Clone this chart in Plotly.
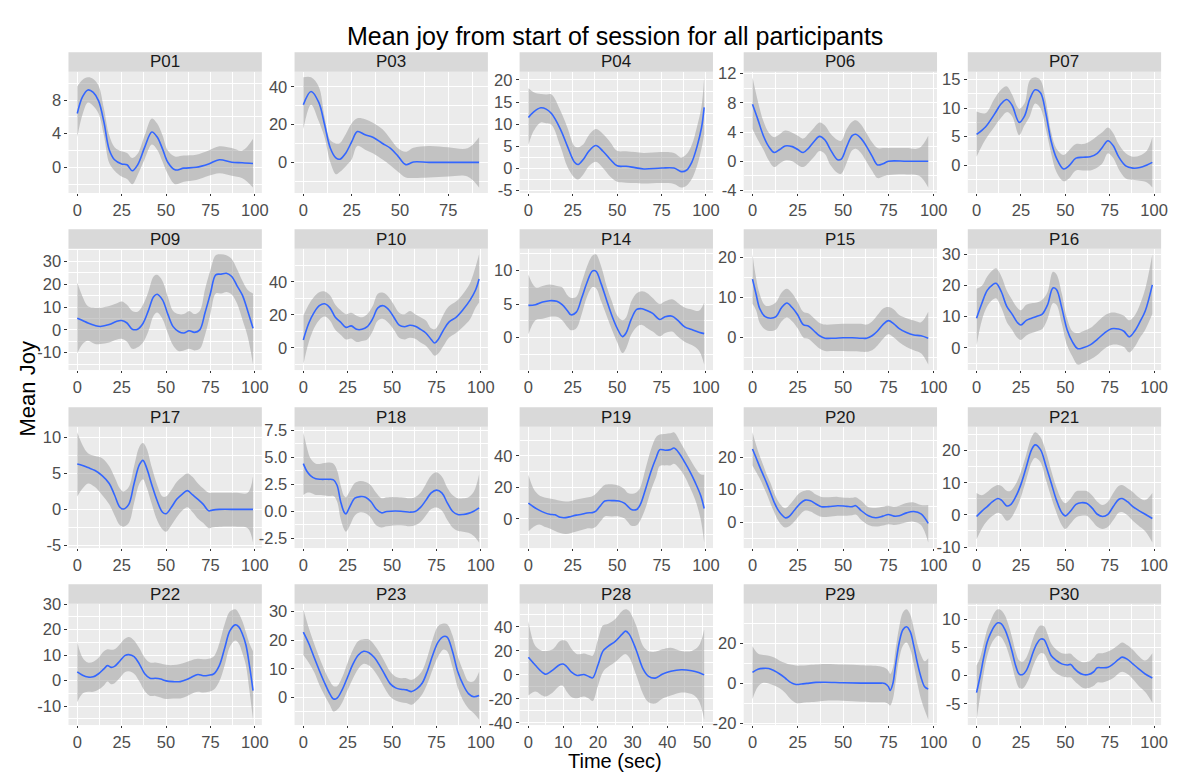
import plotly.graph_objects as go

# ---------------- data ----------------
p01_t = [0, 3, 6, 9, 12, 15, 18, 21, 25, 28, 31, 34, 38, 42, 45, 48, 51, 55, 60, 67, 74, 80, 87, 93, 99]
p01_mean = [6.4, 8.4, 9.2, 8.9, 7.9, 5.4, 2.1, 0.9, 0.4, 0.3, -0.4, 0.3, 2.4, 4.2, 3.6, 2.2, 0.6, -0.3, -0.1, 0.0, 0.4, 0.9, 0.6, 0.55, 0.45]
p01_hi = [9.6, 10.4, 10.7, 10.5, 9.7, 7.0, 3.8, 2.4, 1.9, 1.7, 1.1, 1.6, 3.8, 5.8, 5.2, 3.8, 2.0, 1.3, 1.4, 1.5, 2.0, 2.5, 2.3, 2.0, 3.4]
p01_lo = [3.6, 6.3, 7.7, 7.3, 6.4, 3.8, 0.5, -0.4, -1.1, -1.4, -2.0, -0.9, 1.0, 2.7, 2.1, 0.7, -0.8, -2.0, -1.7, -1.5, -1.0, -0.7, -1.0, -1.3, -2.4]

p03_t = [0, 4, 8, 11, 14, 17, 19, 22, 25, 28, 32, 36, 41, 45, 49, 53, 57, 65, 75, 85, 91]
p03_mean = [30.5, 37.5, 31.7, 20, 7.5, 2.2, 1.7, 5, 10.8, 16.3, 14.6, 13.3, 10, 7.5, 3.3, -1.2, 0.2, 0, 0, 0, 0]
p03_hi = [45, 45, 40, 24, 11.7, 10, 10.3, 15, 20.5, 23.3, 22.8, 21, 17.5, 12.5, 7.5, 5.6, 7.8, 8.7, 8, 7.5, 13.3]
p03_lo = [17.5, 30.5, 21.7, 13.3, 0, -6.3, -5.0, -2, 1.5, 8.7, 6.7, 4.8, 1.5, -1.5, -5, -8, -8.3, -8, -7.5, -7.5, -13.3]

p04_t = [0, 3, 7, 10, 13, 18, 22, 26, 28, 31, 34, 38, 42, 46, 50, 55, 60, 65, 75, 82, 86, 89, 92, 95, 97.5, 99]
p04_mean = [11.5, 12.8, 13.7, 13.4, 12.4, 8.9, 5, 1.4, 0.9, 2.1, 3.9, 5.2, 3.9, 2.1, 0.6, 0.5, 0.2, -0.1, 0.1, 0.1, -0.7, -0.4, 1.4, 5, 9.2, 13.8]
p04_hi = [18.1, 17.2, 16.8, 16.7, 16.7, 13.1, 9.2, 5, 4.8, 5.5, 7.5, 8.9, 7.8, 6, 4, 3.9, 3.7, 3.5, 3.7, 3.5, 2.5, 3.2, 5.3, 9.5, 14, 20.6]
p04_lo = [5.3, 8.5, 10.4, 10.2, 9.9, 5, 0.35, -2.1, -2.5, -1.3, 0.5, 1.5, 0.1, -1.8, -3, -3.2, -3.3, -3.4, -3.3, -3.5, -4.3, -3.9, -2.4, 0.6, 4.5, 7.8]

p06_t = [0, 3, 6, 9, 12, 15, 18, 22, 25, 28, 31, 34, 37, 40, 43, 47, 49, 52, 55, 57, 60, 63, 66, 69, 72, 75, 85, 92, 97]
p06_mean = [7.8, 5.7, 3.5, 2.0, 1.2, 1.6, 2.1, 2.0, 1.6, 1.2, 1.8, 2.7, 3.4, 2.9, 1.6, 0.2, 0.3, 2.0, 3.5, 3.7, 3.1, 2.0, 0.7, -0.5, -0.35, 0, 0, 0, 0]
p06_hi = [11.5, 8.2, 5.5, 3.9, 3.3, 3.7, 4.2, 3.9, 3.5, 3.1, 3.8, 4.6, 5.3, 4.9, 3.8, 2.9, 2.8, 4.4, 5.4, 5.6, 5.0, 3.8, 2.6, 1.8, 1.8, 1.8, 1.8, 1.8, 3.5]
p06_lo = [4.4, 2.9, 1.6, 0.1, -0.8, -0.3, 0.1, 0, -0.5, -0.8, -0.2, 0.6, 1.4, 1.0, -0.5, -1.6, -1.7, -0.2, 1.5, 1.7, 1.1, -0.1, -1.3, -2.3, -2.1, -1.9, -1.8, -2.0, -3.6]

p07_t = [0, 5, 10, 14, 17, 20, 24, 27, 30, 33, 36, 39, 42, 45, 49, 52, 56, 60, 64, 68, 71, 74, 77, 80, 84, 88, 92, 96, 99]
p07_mean = [5.4, 6.7, 8.9, 10.8, 11.5, 10.5, 7.5, 8.6, 11.6, 13.2, 12.7, 9.1, 4.2, 1.25, -0.65, -0.1, 1.25, 1.4, 1.5, 2.1, 3.2, 4.3, 3.4, 1.5, -0.1, -0.5, -0.4, 0.05, 0.5]
p07_hi = [9.4, 9.1, 11.6, 13.3, 13.8, 12.4, 9.9, 10.8, 14.9, 15.4, 14.9, 11.3, 5.8, 2.9, 1.8, 2.6, 3.7, 3.7, 4.2, 5.1, 5.8, 6.6, 5.6, 3.7, 2.1, 1.5, 1.7, 2.6, 4.9]
p07_lo = [1.5, 4.5, 6.7, 8.4, 9.3, 8.6, 5.3, 7.0, 8.6, 10.8, 10.0, 6.4, 2.1, -1.2, -2.8, -2.3, -0.9, -0.9, -0.9, -0.4, 0.4, 2.1, 1.25, -0.65, -2.3, -2.55, -2.7, -3.0, -3.9]

p09_t = [0, 3, 6, 10, 13, 18, 22, 25, 28, 31, 34, 37, 40, 43, 45, 48, 51, 54, 57, 60, 63, 66, 69, 72, 75, 78, 81, 84, 87, 90, 93, 96, 99]
p09_mean = [5.1, 4.1, 3.0, 1.9, 1.5, 2.3, 3.7, 4.1, 3.0, 0.3, 0.3, 2.8, 8.3, 14.5, 15.6, 13.1, 6.9, 1.4, -0.7, -1.4, -0.4, -1.1, 0, 7.6, 15.9, 24.1, 24.4, 24.8, 23.4, 19.3, 15.2, 8.3, 0.7]
p09_hi = [20.7, 14.5, 10.3, 9.7, 9.7, 10.5, 11.5, 12.4, 11.0, 8.3, 7.9, 11.0, 16.6, 23.4, 24.1, 21.4, 14.5, 8.3, 6.9, 6.9, 8.3, 6.9, 8.3, 17.9, 26.2, 32.7, 33.1, 32.7, 31.0, 26.5, 21.5, 17.5, 15.9]
p09_lo = [-10.3, -6.2, -4.8, -6.2, -6.2, -5.5, -4.3, -3.9, -5.2, -8.3, -7.6, -5.5, -0.7, 6.2, 7.6, 4.8, -1.4, -6.9, -9.3, -9.0, -8.3, -9.0, -8.3, -2.1, 6.9, 15.9, 15.9, 16.6, 15.5, 11.5, 4.5, -3.0, -15.2]

p10_t = [0, 3, 6, 9, 12, 15, 18, 21, 24, 27, 30, 33, 36, 39, 42, 45, 48, 51, 54, 57, 60, 63, 66, 69, 72, 74, 76, 79, 82, 86, 90, 94, 97, 99]
p10_mean = [4.8, 14.7, 21.3, 25.5, 26.7, 24.2, 18.5, 15.6, 12.4, 13.3, 11.2, 11.2, 12.8, 17.5, 24.2, 25.5, 23.2, 18.5, 13.7, 12.8, 13.7, 13.1, 11.2, 9, 5.1, 2.9, 5.1, 10.9, 15.6, 18.5, 23.2, 29, 35, 41.7]
p10_hi = [19.4, 26.1, 30.8, 33.7, 34.1, 31.8, 26.1, 22.7, 20.4, 21.3, 19.4, 18.5, 20.4, 25.1, 32.8, 33.3, 30.8, 26.1, 21.3, 20.4, 22.3, 20.4, 18.5, 16.6, 11.8, 11.2, 13.7, 20.4, 25.1, 28, 32.8, 39.4, 49, 56.6]
p10_lo = [-10.1, 3.2, 11.8, 16.9, 18.9, 16.6, 10.9, 8, 5.1, 5.7, 3.6, 4.2, 5.1, 9.9, 16.6, 17.5, 15.1, 10.9, 6.1, 5.1, 6.1, 5.5, 3.2, 1.3, -2.5, -4.8, -3.4, 1.3, 6.1, 9, 12.8, 17.5, 24.2, 27.4]

p14_t = [0, 4, 8, 12, 16, 19, 22, 24, 27, 30, 33, 36, 38, 41, 44, 47, 50, 53, 55, 58, 61, 64, 67, 70, 74, 77, 81, 84, 88, 92, 96, 99]
p14_mean = [4.8, 4.9, 5.3, 5.5, 5.4, 4.9, 4.0, 3.4, 3.8, 5.9, 8.2, 9.9, 9.9, 8.0, 5.6, 3.3, 1.4, 0.15, 0.7, 2.8, 4.2, 4.3, 4.0, 3.6, 2.7, 3.1, 3.2, 2.6, 1.6, 1.2, 0.8, 0.6]
p14_hi = [9.4, 7.5, 7.7, 7.9, 7.7, 7.5, 6.3, 5.9, 6.1, 8.2, 10.6, 12.2, 12.4, 10.6, 7.7, 5.4, 3.3, 2.6, 3.0, 5.4, 6.6, 6.9, 6.6, 5.9, 5.0, 5.4, 5.7, 5.2, 4.5, 4.2, 4.0, 5.2]
p14_lo = [0.5, 2.6, 2.8, 3.1, 3.1, 2.6, 1.6, 1.1, 1.4, 3.5, 6.1, 7.5, 7.4, 5.4, 3.3, 1.2, -0.7, -2.3, -1.6, 0.5, 1.6, 1.9, 1.4, 0.9, 0.2, 0.7, 0.9, 0.2, -0.6, -1.1, -1.9, -4.0]

p15_t = [0, 2, 4, 7, 10, 13, 16, 19, 22, 25, 28, 31, 34, 37, 40, 45, 50, 55, 60, 63, 66, 69, 72, 75, 78, 81, 85, 89, 93, 97]
p15_mean = [14.6, 10.8, 7.2, 5.2, 4.8, 5.2, 7.4, 8.6, 7.4, 5.6, 3.2, 2.8, 1.6, 0.4, -0.2, -0.2, -0.1, -0.1, -0.2, -0.2, 0.4, 1.6, 3.2, 4.2, 3.4, 2.2, 1.2, 0.6, 0.4, -0.2]
p15_hi = [20.8, 14.8, 10.8, 8.0, 8.0, 8.8, 11.2, 12.2, 11.0, 8.8, 6.4, 6.0, 4.8, 3.6, 3.2, 3.3, 3.4, 3.4, 3.4, 3.2, 4.0, 5.6, 7.2, 7.6, 7.0, 5.6, 4.8, 4.2, 3.8, 6.4]
p15_lo = [8.4, 6.8, 3.6, 2.0, 1.6, 2.0, 4.0, 5.0, 4.0, 2.2, 0.0, -0.4, -1.6, -2.8, -3.4, -3.4, -3.4, -3.5, -3.6, -3.6, -3.2, -2.0, -0.4, 0.8, 0.0, -1.2, -2.4, -3.2, -4.0, -6.8]

p16_t = [0, 3, 6, 9, 11, 14, 17, 20, 23, 25, 28, 31, 34, 37, 40, 43, 45, 48, 51, 54, 57, 60, 64, 68, 72, 76, 80, 83, 86, 89, 92, 95, 99]
p16_mean = [9.5, 14.3, 18.4, 20.2, 20.7, 17.9, 13.3, 10.8, 8.1, 7.3, 8.8, 9.5, 10.1, 10.8, 13.8, 19.2, 18.7, 12.8, 5.8, 1.9, -0.3, 0, 0.9, 2.7, 4.7, 6.1, 6.0, 5.3, 3.5, 5.3, 8.3, 11.8, 20.2]
p16_hi = [18.9, 19.9, 22.9, 24.9, 25.5, 22.9, 18.4, 15.4, 12.8, 12.0, 13.8, 14.3, 14.5, 15.4, 17.9, 24.4, 23.6, 17.4, 9.3, 5.3, 4.7, 5.3, 6.3, 8.3, 10.3, 11.3, 11.0, 10.3, 8.8, 10.3, 13.8, 18.9, 30.0]
p16_lo = [0.7, 8.8, 13.3, 15.4, 15.9, 12.8, 8.3, 5.8, 3.2, 2.5, 3.9, 4.7, 5.3, 6.0, 9.3, 14.3, 13.8, 7.8, 0.7, -2.8, -5.4, -4.8, -3.8, -2.3, -0.3, 0.9, 0.9, 0.2, -1.5, 0.2, 3.2, 5.8, 10.8]

p17_t = [0, 3, 6, 10, 14, 18, 21, 24, 26, 29, 32, 35, 37, 39, 42, 45, 48, 50, 53, 56, 59, 62, 65, 68, 71, 74, 76, 80, 90, 96, 99]
p17_mean = [6.3, 6.1, 5.8, 5.4, 4.7, 3.6, 2.0, 0.3, 0.05, 0.7, 3.6, 6.2, 6.8, 5.8, 3.4, 1.2, -0.4, -0.6, 0.3, 1.4, 2.1, 2.6, 2.0, 1.4, 0.7, -0.2, -0.1, 0, 0, 0, 0]
p17_hi = [10.7, 8.9, 7.8, 7.4, 7.1, 6.0, 4.5, 2.9, 2.5, 3.1, 6.0, 8.7, 9.2, 8.5, 5.8, 3.4, 1.8, 1.8, 2.7, 3.8, 4.5, 5.0, 4.5, 3.6, 2.9, 2.3, 2.3, 2.3, 2.3, 2.3, 4.6]
p17_lo = [1.8, 2.9, 3.6, 3.1, 2.0, 0.7, -0.8, -2.2, -2.4, -1.9, 0.9, 3.6, 4.2, 3.1, 0.7, -1.5, -2.8, -3.1, -2.2, -1.1, -0.2, 0.3, -0.4, -1.3, -1.9, -2.6, -2.5, -2.4, -2.4, -2.6, -4.6]

p18_t = [0, 2, 4, 7, 10, 14, 17, 19, 21, 23, 24, 26, 29, 32, 35, 38, 41, 44, 47, 55, 60, 63, 66, 69, 72, 75, 78, 81, 84, 87, 90, 93, 96, 99]
p18_mean = [4.4, 3.7, 3.3, 3.0, 2.95, 2.95, 2.9, 2.4, 0.9, -0.1, -0.25, 0.35, 1.2, 1.35, 1.3, 0.9, 0.2, -0.15, -0.03, 0, -0.09, -0.03, 0.35, 1.0, 1.7, 1.95, 1.7, 0.8, 0, -0.3, -0.3, -0.2, 0, 0.3]
p18_hi = [7.3, 5.9, 4.9, 4.4, 4.4, 4.5, 4.4, 3.8, 2.4, 1.4, 1.3, 1.8, 2.6, 2.8, 2.7, 2.4, 1.7, 1.2, 1.3, 1.3, 1.2, 1.3, 1.7, 2.5, 3.3, 3.6, 3.2, 2.2, 1.5, 1.2, 1.2, 1.3, 1.8, 3.4]
p18_lo = [1.5, 1.7, 1.7, 1.5, 1.5, 1.4, 1.4, 0.9, -0.7, -1.7, -1.9, -1.4, -0.4, -0.1, -0.2, -0.6, -1.3, -1.5, -1.4, -1.3, -1.4, -1.3, -1.0, -0.4, 0.2, 0.35, 0.06, -0.8, -1.5, -1.8, -1.9, -2.0, -2.3, -2.9]

p19_t = [0, 3, 6, 9, 12, 15, 18, 21, 24, 27, 30, 33, 36, 38, 41, 43, 47, 51, 54, 56, 58, 61, 63, 66, 69, 72, 74, 77, 80, 82, 85, 88, 91, 94, 97, 99]
p19_mean = [10, 7.6, 5.6, 4, 3, 2.6, 1, 0.8, 1.6, 2.4, 3, 3.8, 4, 5, 9, 11.4, 11.6, 11.4, 10, 8, 6, 6, 9, 19, 30, 39, 44, 43.6, 44, 45, 41.6, 36, 30, 23, 15, 6.6]
p19_hi = [28, 19, 15, 13.6, 13, 12.4, 11.6, 11, 11.4, 12.4, 13, 13.6, 14.4, 16, 19.6, 21.6, 22, 21, 19, 16.4, 16, 17, 20, 32, 44, 52, 53.6, 54, 54.4, 55, 50, 44, 38, 32.4, 28.4, 28]
p19_lo = [-8, -5, -3.6, -5, -6, -7.6, -9, -9.6, -9, -8, -7, -6, -6, -5, -1, 1.6, 1.6, 1.6, 0.4, -2, -4.4, -4, -1, 7, 18, 27, 33.6, 34, 34, 35, 32, 27, 20, 12, 0, -15]

p20_t = [0, 2, 4, 6, 8, 10, 12, 14, 16, 18, 20, 23, 26, 29, 32, 35, 38, 42, 47, 52, 55, 57, 60, 64, 68, 72, 75, 78, 81, 85, 89, 93, 97]
p20_mean = [22.5, 19.8, 17, 14.4, 11.8, 9, 6.1, 3.9, 2.4, 1.4, 1.7, 3.6, 5.6, 6.8, 6.6, 5.6, 4.8, 4.8, 5.1, 4.9, 4.8, 5.1, 3.6, 2.0, 1.4, 1.9, 2.4, 1.9, 2.0, 2.9, 3.3, 2.6, -0.3]
p20_hi = [27.6, 23.7, 20.3, 17.4, 14.4, 12, 9, 6.6, 5.1, 4.3, 5.1, 7.1, 9, 9.7, 9.7, 8.5, 7.8, 7.7, 7.8, 7.5, 7.5, 7.7, 6.6, 4.6, 4.4, 4.8, 5.1, 4.8, 5.1, 5.9, 6.1, 5.3, 5.3]
p20_lo = [17.4, 15.4, 13.4, 11, 8.5, 5.6, 3.1, 0.7, -0.8, -1.6, -1.3, 0.2, 2.2, 3.6, 3.3, 2.4, 1.7, 1.7, 2, 2, 2.2, 2.4, 0.7, -0.8, -1.3, -1, -0.6, -0.8, -0.6, 0, 0.2, -0.8, -6.2]

p21_t = [0, 3, 6, 9, 12, 14, 17, 19, 22, 25, 28, 31, 33, 36, 39, 42, 45, 48, 50, 53, 56, 59, 62, 65, 68, 71, 74, 77, 80, 82, 85, 88, 91, 95, 99]
p21_mean = [-0.5, 1.2, 2.6, 4.1, 5.1, 4.6, 2.8, 3.1, 5.6, 9.5, 14.9, 20.3, 21.8, 20.3, 15.4, 10, 4.6, 0.7, -0.3, 1.2, 3.3, 3.8, 3.6, 2.2, 0.2, -0.5, 0.2, 2.6, 4.8, 5.1, 4.1, 2.6, 1.5, 0.2, -1.1]
p21_hi = [6.8, 6.1, 7.1, 8.5, 9.3, 9, 7.5, 7.4, 9.5, 13.4, 18.8, 24.2, 25.7, 24.2, 19.8, 13.9, 8.5, 4.6, 3.6, 5.1, 7.3, 7.5, 7.4, 6.1, 4.1, 3.1, 4.1, 6.8, 9, 9.3, 8.3, 7.1, 5.6, 4.6, 6.8]
p21_lo = [-7.6, -4.2, -1.8, -0.3, 0.7, 0.2, -1.8, -1.3, 1.5, 5.6, 11, 16.4, 17.8, 16.4, 11, 5.6, 0.7, -3.2, -4.4, -2.7, -0.8, -0.3, -0.3, -1.8, -3.7, -4.4, -3.7, -1.6, 0.7, 0.9, -0.1, -1.8, -3.2, -5.1, -8.6]

p22_t = [0, 3, 6, 9, 12, 15, 17, 19, 21, 24, 27, 29, 32, 35, 38, 41, 44, 47, 50, 54, 58, 62, 66, 68, 71, 74, 77, 80, 83, 86, 89, 91, 93, 95, 97, 99]
p22_mean = [3.4, 2.1, 1.4, 1.5, 2.7, 4.6, 5.9, 5.2, 5.6, 7.7, 9.9, 10.2, 9.4, 6.5, 2.7, 0.9, 0.9, 0.6, -0.1, -0.4, -0.4, 0.5, 1.9, 2.4, 1.9, 2.1, 2.7, 5.9, 12.7, 19.6, 21.9, 21.1, 18.3, 14, 5.9, -3.9]
p22_hi = [15.2, 9, 7.1, 7.4, 9, 11.5, 12.3, 12.1, 12.3, 14.3, 16.5, 17.1, 15.8, 12.7, 9, 7.1, 7.1, 6.7, 6.2, 6.1, 6.5, 7.4, 8.4, 8.6, 8.4, 8.6, 9.6, 14.6, 22.1, 27.1, 28.0, 26.4, 23.3, 19, 14.6, 11.5]
p22_lo = [-8.5, -5.1, -4.4, -4.4, -3.5, -1.9, -0.4, -1.4, -1, 1.1, 3.4, 3.7, 2.7, -0.4, -4.1, -6, -6, -6.6, -7.2, -7, -7, -6, -4.7, -4.4, -4.7, -4.4, -3.5, -0.4, 5.9, 13.4, 15.8, 14.6, 10.8, 5.9, -4.1, -15.3]

p23_t = [0, 3, 6, 9, 12, 15, 17, 19, 22, 25, 28, 31, 34, 37, 40, 43, 46, 49, 52, 55, 58, 61, 64, 67, 70, 73, 76, 79, 81, 84, 87, 90, 93, 96, 99]
p23_mean = [22.8, 18.9, 14.1, 9.4, 5, 1.1, -0.6, -0.3, 2.8, 7.2, 11.7, 14.8, 16.1, 15.6, 13.9, 11.1, 7.8, 4.7, 3.3, 2.8, 2.6, 2, 3, 5, 9.4, 15, 19.4, 21.3, 21.1, 16.1, 8.9, 4.4, 1.3, 0.2, 0.6]
p23_hi = [30.8, 24.4, 18.9, 13.9, 9.4, 5.6, 3.9, 3.9, 7.2, 12.2, 16.7, 19.7, 20.3, 20.2, 18.3, 15.6, 12.2, 8.9, 7.2, 6.7, 6.7, 6.1, 7.2, 9.4, 14.4, 20.6, 25, 25.8, 25.6, 21.7, 14.4, 9.4, 5.6, 5.6, 8.9]
p23_lo = [14.8, 12.2, 8.9, 4.4, 0.6, -2.8, -5, -4.4, -1.7, 2.6, 6.7, 10, 11.7, 11.1, 9.2, 6.3, 3, 0.2, -1.1, -1.7, -2, -2.6, -1.1, 1.1, 5, 10, 14.4, 16.7, 16.1, 10.6, 3.3, -1.1, -3.9, -5.6, -7.8]

p28_t = [0, 2, 4, 5, 7, 9, 10, 11, 12.5, 14, 16, 17.5, 18.5, 20, 21.5, 23, 25, 27, 28, 29, 31, 33, 34.5, 36.5, 38.5, 41, 44, 47, 49, 50.6]
p28_mean = [14.7, 8, 2.1, 0.5, 4, 8.5, 9, 7, 2, -0.5, 0.3, -1.5, -2.5, 8, 20, 24, 28, 34, 36.5, 34, 21, 5, -1, -2.7, 0.5, 3, 4.3, 3.5, 2, 0]
p28_hi = [45, 24, 20, 20, 21.3, 28, 28.8, 28, 21.3, 17.3, 17.9, 16.5, 16, 29.3, 41.3, 42.7, 46.7, 53.3, 54.7, 53.3, 41.3, 24, 20, 19.2, 21.3, 22.7, 20, 20, 24, 37.9]
p28_lo = [-17.3, -13.9, -17.3, -18.1, -14.7, -9.3, -9.3, -13.9, -18.7, -19.5, -18.1, -20, -21.9, -9.3, 2.7, 6.7, 10.7, 16, 17.3, 14.7, 0, -16, -22.7, -24, -20, -17.3, -14.7, -16, -21.3, -37.3]

p29_t = [0, 3, 6, 9, 12, 15, 18, 21, 24, 27, 30, 35, 40, 50, 60, 70, 73, 75, 76, 77.5, 79, 81, 83, 85, 87, 89, 91, 93, 95, 97]
p29_mean = [5.5, 7.1, 7.5, 7.4, 6.3, 4.7, 2.7, 0.5, -0.5, -0.3, 0, 0.5, 0.6, 0.3, 0.15, 0.15, 0, -1.6, -3.5, 0, 9.4, 20.4, 26.7, 28.2, 25.9, 18.8, 10.2, 3.1, -1.6, -2.8]
p29_hi = [18.5, 14.9, 14.1, 13.8, 12.9, 11.3, 10.2, 9.4, 8.9, 8.9, 9.1, 9.4, 9.7, 9.4, 9.1, 8.6, 7.8, 6.3, 4.7, 7.8, 17.3, 28.2, 35.3, 36.9, 34.5, 27.5, 19.6, 14.1, 11, 12.5]
p29_lo = [-7.8, -1.6, 0.3, 0, -1.1, -2.4, -4.7, -7.8, -9.7, -9.7, -9.4, -9.1, -8.6, -8.6, -9.1, -9.4, -9.4, -10.2, -11, -7.8, 0.8, 12.5, 18.8, 20.4, 17.3, 9.4, 0, -7.8, -13.3, -18]

p30_t = [0, 2, 4, 6, 8, 10, 12, 14, 16, 18, 20, 22, 24, 26, 28, 30, 32, 34, 36, 38, 40, 42, 45, 48, 51, 53, 55, 57, 60, 63, 66, 68, 71, 74, 77, 80, 82, 85, 88, 91, 95, 99]
p30_mean = [-3, -0.1, 3.2, 6, 7.6, 8.8, 9.4, 9.2, 8.2, 6.5, 4.3, 1.8, 0.3, 0.2, 0.9, 2.4, 4.3, 5.7, 6.5, 6.4, 5.1, 3.6, 2.7, 2.1, 1.9, 2, 1.3, 0.7, 0.2, 0.2, 0.7, 1.4, 1.4, 1.5, 2.1, 2.9, 3.3, 2.9, 2.1, 1.3, 0.3, -0.4]
p30_hi = [1.8, 3.2, 5.7, 8.2, 9.8, 11.2, 11.8, 11.6, 10.7, 9, 6.8, 4.3, 2.7, 2.5, 3.2, 4.8, 6.8, 8.2, 8.9, 8.8, 7.4, 5.7, 4.6, 4, 3.9, 3.9, 3.3, 2.8, 2.4, 2.5, 3.2, 3.9, 4, 4.3, 4.8, 5.5, 5.9, 5.4, 4.6, 3.6, 2.7, 4]
p30_lo = [-7.8, -3.7, 0.4, 3.5, 5.4, 6.5, 7.1, 6.8, 5.7, 4, 1.8, -0.7, -2.2, -2.3, -1.5, -0.1, 1.8, 3.2, 4, 3.9, 2.7, 1.3, 0.4, -0.1, -0.3, -0.3, -0.9, -1.5, -2.2, -2.2, -1.8, -1.2, -1.2, -0.9, -0.4, 0.4, 0.7, 0.3, -0.6, -1.7, -2.9, -4.8]

# tick labels
x_ticks_100 = [0, 25, 50, 75, 100]
x_ticks_p28 = [0, 10, 20, 30, 40, 50]
p01_yticks = [0, 4, 8]
p03_yticks = [0, 20, 40]
p04_yticks = [-5, 0, 5, 10, 15, 20]
p06_yticks = [-4, 0, 4, 8, 12]
p07_yticks = [0, 5, 10, 15]
p09_yticks = [-10, 0, 10, 20, 30]
p10_yticks = [0, 20, 40]
p14_yticks = [0, 5, 10]
p15_yticks = [0, 10, 20]
p16_yticks = [0, 10, 20, 30]
p17_yticks = [-5, 0, 5, 10]
p18_yticks = [-2.5, 0.0, 2.5, 5.0, 7.5]
p19_yticks = [0, 20, 40]
p20_yticks = [0, 10, 20]
p21_yticks = [-10, 0, 10, 20]
p22_yticks = [-10, 0, 10, 20, 30]
p23_yticks = [0, 10, 20, 30]
p28_yticks = [-40, -20, 0, 20, 40]
p29_yticks = [-20, 0, 20]
p30_yticks = [-5, 0, 5, 10]

panels = [
    ("P01", p01_t, p01_mean, p01_lo, p01_hi, p01_yticks, x_ticks_100, False),
    ("P03", p03_t, p03_mean, p03_lo, p03_hi, p03_yticks, x_ticks_100, False),
    ("P04", p04_t, p04_mean, p04_lo, p04_hi, p04_yticks, x_ticks_100, False),
    ("P06", p06_t, p06_mean, p06_lo, p06_hi, p06_yticks, x_ticks_100, False),
    ("P07", p07_t, p07_mean, p07_lo, p07_hi, p07_yticks, x_ticks_100, False),
    ("P09", p09_t, p09_mean, p09_lo, p09_hi, p09_yticks, x_ticks_100, False),
    ("P10", p10_t, p10_mean, p10_lo, p10_hi, p10_yticks, x_ticks_100, False),
    ("P14", p14_t, p14_mean, p14_lo, p14_hi, p14_yticks, x_ticks_100, False),
    ("P15", p15_t, p15_mean, p15_lo, p15_hi, p15_yticks, x_ticks_100, False),
    ("P16", p16_t, p16_mean, p16_lo, p16_hi, p16_yticks, x_ticks_100, False),
    ("P17", p17_t, p17_mean, p17_lo, p17_hi, p17_yticks, x_ticks_100, False),
    ("P18", p18_t, p18_mean, p18_lo, p18_hi, p18_yticks, x_ticks_100, True),
    ("P19", p19_t, p19_mean, p19_lo, p19_hi, p19_yticks, x_ticks_100, False),
    ("P20", p20_t, p20_mean, p20_lo, p20_hi, p20_yticks, x_ticks_100, False),
    ("P21", p21_t, p21_mean, p21_lo, p21_hi, p21_yticks, x_ticks_100, False),
    ("P22", p22_t, p22_mean, p22_lo, p22_hi, p22_yticks, x_ticks_100, False),
    ("P23", p23_t, p23_mean, p23_lo, p23_hi, p23_yticks, x_ticks_100, False),
    ("P28", p28_t, p28_mean, p28_lo, p28_hi, p28_yticks, x_ticks_p28, False),
    ("P29", p29_t, p29_mean, p29_lo, p29_hi, p29_yticks, x_ticks_100, False),
    ("P30", p30_t, p30_mean, p30_lo, p30_hi, p30_yticks, x_ticks_100, False),
]

# ---------------- layout geometry (pixels) ----------------
W, H = 1177, 773
col_left = [61, 289, 516, 742, 968]
panel_w = 195
strip_top = [36, 217, 399, 580]
strip_h = 20
panel_h = 124

FONT = "Liberation Sans, Arial, Helvetica, sans-serif"
TICK_COLOR = "#4D4D4D"
TICK_SIZE = 16.5
STRIP_SIZE = 17


def fmt(v, one_decimal):
    if one_decimal:
        return f"{v:.1f}"
    return f"{v:g}"


def minor_vals(ticks):
    step = ticks[1] - ticks[0]
    out = []
    v = ticks[0] - 3 * step + step / 2
    while v < ticks[-1] + 3 * step:
        out.append(v)
        v += step
    return out


fig = go.Figure()
layout = {}
shapes = []
annotations = []

for i, (name, t, m, lo, hi, yt, xt, dec) in enumerate(panels):
    r, c = divmod(i, 5)
    k = i + 1
    xa = "x" if k == 1 else f"x{k}"
    ya = "y" if k == 1 else f"y{k}"
    xkey = "xaxis" if k == 1 else f"xaxis{k}"
    ykey = "yaxis" if k == 1 else f"yaxis{k}"

    fig.add_trace(go.Scatter(x=t, y=lo, mode="lines", line=dict(width=0, shape="spline"),
                             xaxis=xa, yaxis=ya, hoverinfo="skip", showlegend=False))
    fig.add_trace(go.Scatter(x=t, y=hi, mode="lines", line=dict(width=0, shape="spline"),
                             fill="tonexty", fillcolor="rgba(153,153,153,0.5)",
                             xaxis=xa, yaxis=ya, hoverinfo="skip", showlegend=False))
    fig.add_trace(go.Scatter(x=t, y=m, mode="lines",
                             line=dict(color="#3366FF", width=1.6, shape="spline"),
                             xaxis=xa, yaxis=ya, showlegend=False, name=name))

    xmax = max(t)
    xmin = min(t)
    xpad = 0.05 * (xmax - xmin)
    ymin = min(lo)
    ymax = max(hi)
    ypad = 0.05 * (ymax - ymin)

    px0 = col_left[c]
    px1 = px0 + panel_w
    pt = strip_top[r] + strip_h
    pb = pt + panel_h

    common = dict(
        ticks="outside", tickwidth=1, tickcolor="#333333",
        tickfont=dict(size=TICK_SIZE, color=TICK_COLOR, family=FONT),
        showgrid=True, gridcolor="white", gridwidth=1.1,
        zeroline=False, showline=False, fixedrange=True,
    )
    layout[xkey] = dict(
        domain=[px0 / W, px1 / W], anchor=ya,
        range=[xmin - xpad, xmax + xpad],
        tickmode="array", tickvals=xt, ticktext=[fmt(v, False) for v in xt],
        ticklen=2,
        minor=dict(tickmode="array", tickvals=minor_vals(xt), showgrid=True,
                   gridcolor="white", gridwidth=0.5, ticks=""),
        **common,
    )
    layout[ykey] = dict(
        domain=[1 - pb / H, 1 - pt / H], anchor=xa,
        range=[ymin - ypad, ymax + ypad],
        tickmode="array", tickvals=yt, ticktext=[fmt(v, dec) for v in yt],
        ticklen=3,
        minor=dict(tickmode="array", tickvals=minor_vals(yt), showgrid=True,
                   gridcolor="white", gridwidth=0.5, ticks=""),
        **common,
    )

    # facet strip
    shapes.append(dict(type="rect", xref="paper", yref="paper",
                       x0=px0 / W, x1=px1 / W,
                       y0=1 - (strip_top[r] + strip_h) / H, y1=1 - strip_top[r] / H,
                       fillcolor="#D9D9D9", line=dict(width=0), layer="above"))
    annotations.append(dict(text=name, xref="paper", yref="paper",
                            x=(px0 + px1) / 2 / W, y=1 - (strip_top[r] + strip_h / 2) / H,
                            showarrow=False, xanchor="center", yanchor="middle",
                            font=dict(size=STRIP_SIZE, color="#1A1A1A", family=FONT)))

grid_bottom = strip_top[-1] + strip_h + panel_h
center_x = (col_left[0] + col_left[-1] + panel_w) / 2
center_y = (strip_top[0] + grid_bottom) / 2
annotations.append(dict(text="Mean joy from start of session for all participants",
                        xref="paper", yref="paper", x=center_x / W, y=1 - 19 / H,
                        showarrow=False, xanchor="center", yanchor="middle",
                        font=dict(size=25, color="black", family=FONT)))
annotations.append(dict(text="Time (sec)", xref="paper", yref="paper",
                        x=center_x / W, y=0, yshift=0, borderpad=0,
                        showarrow=False, xanchor="center", yanchor="bottom",
                        font=dict(size=20, color="black", family=FONT)))
annotations.append(dict(text="Mean Joy", xref="paper", yref="paper",
                        x=20 / W, y=1 - center_y / H, textangle=-90,
                        showarrow=False, xanchor="center", yanchor="middle",
                        font=dict(size=22, color="black", family=FONT)))

fig.update_layout(
    width=W, height=H,
    margin=dict(l=0, r=0, t=0, b=0),
    paper_bgcolor="white", plot_bgcolor="#EBEBEB",
    showlegend=False,
    font=dict(family=FONT),
    shapes=shapes, annotations=annotations,
    **layout,
)

fig.write_html("out.html")
